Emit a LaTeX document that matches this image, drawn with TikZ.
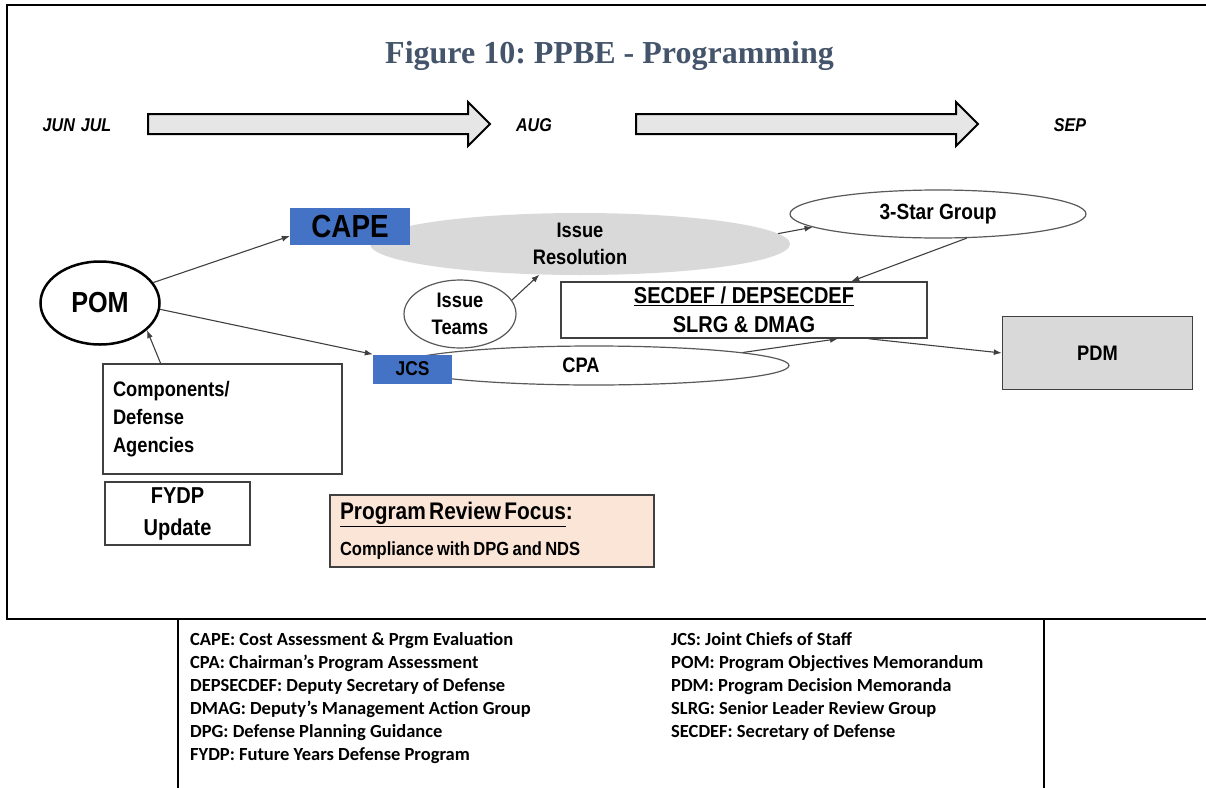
\documentclass[tikz,border=0pt]{standalone}
\usepackage{fontspec}
\setmainfont{Liberation Serif}
\newfontfamily\arialfont{Liberation Sans}[FakeStretch=0.87]
\newfontfamily\calibrifont{Carlito}
\usetikzlibrary{arrows.meta,positioning,shapes.geometric}
\definecolor{titleblue}{HTML}{44546A}
\definecolor{capeblue}{HTML}{4472C4}
\definecolor{arrowgray}{HTML}{E7E6E6}
\definecolor{irgray}{HTML}{D9D9D9}
\definecolor{pdmgray}{HTML}{D9D9D9}
\definecolor{peach}{HTML}{FBE5D6}
\definecolor{linkgray}{HTML}{404040}
\definecolor{ovalgray}{HTML}{595959}
\newcommand{\sz}[2]{\fontsize{#1}{#2}\selectfont}
\frenchspacing

\begin{document}
\begin{tikzpicture}[x=1pt,y=-1pt]
\tikzstyle{bigarr}=[draw=black, line width=2pt, fill=arrowgray, line join=miter]
\tikzstyle{mon}=[inner sep=0pt, font=\arialfont\bfseries\itshape\sz{18.5}{22}]
\tikzstyle{oval}=[ellipse, draw=ovalgray, line width=1.2pt, fill=white, inner sep=0pt, align=center]
\tikzstyle{box}=[rectangle, draw=linkgray, line width=1.5pt, inner sep=0pt, align=center]
\tikzstyle{bluebox}=[rectangle, fill=capeblue, inner sep=0pt]
\tikzstyle{lnk}=[draw=linkgray, line width=1.1pt, -{Latex[length=8pt,width=6pt]}]
\tikzstyle{leg}=[anchor=base west, inner sep=0pt, font=\calibrifont\bfseries\sz{18.5}{22}]

\useasboundingbox (0,0) rectangle (1206,787);

% frame and legend box
\draw[line width=1.5pt] (1210,5) -- (7,5) -- (7,619) -- (1210,619);
\draw[line width=1.5pt] (178,619) -- (178,790) (1044,619) -- (1044,790);

\node[anchor=base, inner sep=0pt, font=\bfseries\sz{32}{36}, text=titleblue] (title) at (609.5,63) {Figure 10: PPBE - Programming};

% timeline
\node[mon] (jun) at (77,125) {JUN\hspace{6pt}JUL};
\node[mon] (aug) at (534,125) {AUG};
\node[mon] (sep) at (1070,125) {SEP};
\draw[bigarr] (148,114) -- (468,114) -- (468,102) -- (490,124) -- (468,146) -- (468,134) -- (148,134) -- cycle;
\draw[bigarr] (636,114) -- (956,114) -- (956,102) -- (978,124) -- (956,146) -- (956,134) -- (636,134) -- cycle;

% nodes
\node[ellipse, fill=irgray, inner sep=0pt, align=center, minimum width=420, minimum height=62,
  font=\arialfont\bfseries\sz{21}{27}] (ir) at (580,244) {Issue\\Resolution};
\node[bluebox, minimum width=120, minimum height=37, font=\arialfont\bfseries\sz{32}{36}] (cape) at (350,226.5) {CAPE};
\node[oval, minimum width=296, minimum height=48, font=\arialfont\bfseries\sz{22}{26}] (star) at (938,214) {3-Star Group};
\node[oval, minimum width=112, minimum height=68, font=\arialfont\bfseries\sz{21}{27}] (teams) at (460,314) {Issue\\Teams};
\node[oval, draw=black, line width=2.5pt, minimum width=119, minimum height=83,
  font=\arialfont\bfseries\sz{29}{32}] (pom) at (100,303) {POM};
\node[box, minimum width=366, minimum height=56, font=\arialfont\bfseries\sz{23}{29}] (sec) at (744,310)
  {\underline{SECDEF / DEPSECDEF}\\SLRG \& DMAG};
\node[oval, minimum width=390, minimum height=39, font=\arialfont\bfseries\sz{21}{24}] (cpa) at (594,365.5) {CPA\hspace*{26pt}};
\node[bluebox, minimum width=79, minimum height=29, font=\arialfont\bfseries\sz{20}{24}] (jcs) at (412.5,369) {JCS};
\node[box, fill=pdmgray, minimum width=190, minimum height=73, font=\arialfont\bfseries\sz{21}{24}] (pdm) at (1097.5,353) {PDM};
\node[box, align=left, text width=219, inner xsep=10pt, minimum height=110,
  font=\arialfont\bfseries\sz{21}{28}] (comp) at (222.5,419) {Components/\\Defense\\Agencies};
\node[box, minimum width=145, minimum height=63, font=\arialfont\bfseries\sz{23}{32}] (fydp) at (177.5,513.5) {FYDP\\Update};
\node[box, fill=peach, align=left, text width=304, inner xsep=10pt, minimum height=72,
  font=\arialfont\bfseries] (focus) at (492,531)
  {{\sz{24}{28}\underline{Program Review Focus}:}\\[14pt]{\sz{19}{22}Compliance with DPG and NDS}};

% connectors
\draw[lnk] (pom.21) -- (cape.189);
\draw[lnk] (pom.-6) -- (jcs.north west);
\draw[lnk] (comp.138) -- (pom.-30);
\draw[lnk] (teams.15) -- (ir.-143);
\draw[lnk] (ir.3) -- (star.186);
\draw[lnk] (star.-40) -- (sec.15);
\draw[lnk] (cpa.5) -- (sec.-17);
\draw[lnk] (sec.-13) -- (pdm.west);

% legend
\foreach \txt [count=\i] in {CAPE: Cost Assessment \& Prgm Evaluation, CPA: Chairman’s Program Assessment,
  DEPSECDEF: Deputy Secretary of Defense, DMAG: Deputy’s Management Action Group,
  DPG: Defense Planning Guidance, FYDP: Future Years Defense Program}
  \node[leg] (legl\i) at (190,622.5+23*\i) {\txt};
\foreach \txt [count=\i] in {JCS: Joint Chiefs of Staff, POM: Program Objectives Memorandum,
  PDM: Program Decision Memoranda, SLRG: Senior Leader Review Group, SECDEF: Secretary of Defense}
  \node[leg] (legr\i) at (671,622.5+23*\i) {\txt};
\end{tikzpicture}
\end{document}
